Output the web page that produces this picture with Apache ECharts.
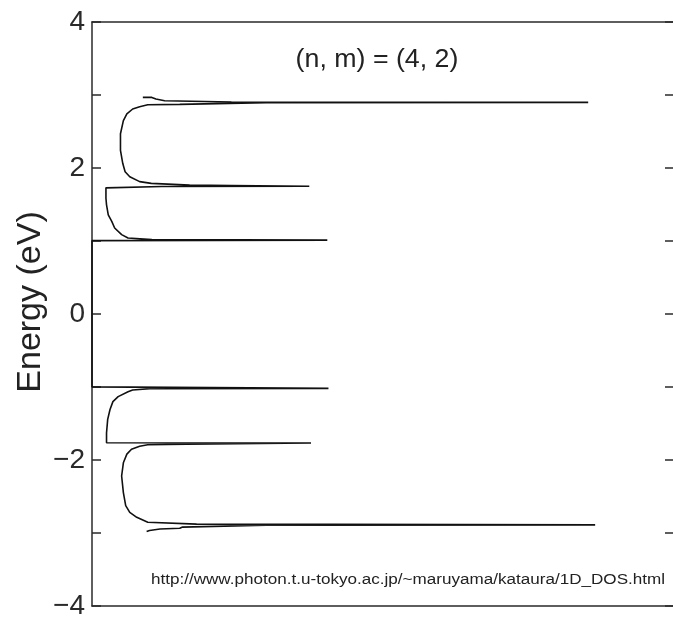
<!DOCTYPE html>
<html>
<head>
<meta charset="utf-8">
<script src="https://cdn.jsdelivr.net/npm/echarts@6/dist/echarts.min.js"></script>
<style>
html,body{margin:0;padding:0;background:#fff;}
#chart{width:673px;height:620px;}
</style>
</head>
<body>
<div id="chart"></div>
<script>
// Energy (eV) along the trace, top to bottom
const energy = [2.967, 2.967, 2.944, 2.921, 2.905, 2.899, 2.896, 2.872, 2.867, 2.840, 2.808, 2.740, 2.649, 2.469, 2.242, 2.061, 1.948, 1.880, 1.813, 1.789, 1.766, 1.760, 1.751, 1.747, 1.728, 1.586, 1.495, 1.359, 1.269, 1.178, 1.087, 1.042, 1.019, 1.012, 1.005, -0.998, -1.019, -1.023, -1.041, -1.064, -1.132, -1.200, -1.308, -1.444, -1.630, -1.764, -1.768, -1.784, -1.791, -1.811, -1.852, -1.920, -2.038, -2.219, -2.446, -2.626, -2.717, -2.785, -2.853, -2.878, -2.889, -2.893, -2.920, -2.935, -2.946, -2.966, -2.980];
// Density of states (arbitrary units) at each energy
const dos = [0.875, 1.03, 1.10, 1.25, 2.40, 8.54, 3.00, 1.51, 0.96, 0.82, 0.70, 0.60, 0.54, 0.49, 0.49, 0.53, 0.57, 0.65, 0.82, 1.02, 1.68, 2.40, 3.74, 1.20, 0.24, 0.24, 0.25, 0.28, 0.34, 0.39, 0.51, 0.62, 1.03, 4.05, 0, 0, 4.07, 0.99, 0.70, 0.62, 0.45, 0.36, 0.31, 0.27, 0.25, 0.25, 3.77, 1.63, 0.96, 0.82, 0.68, 0.60, 0.54, 0.51, 0.54, 0.58, 0.65, 0.77, 0.96, 1.80, 8.66, 3.00, 1.55, 1.51, 1.17, 0.99, 0.94];
// Tick labels of the energy axis
const yTickValues = [-4, -2, 0, 2, 4];
const yTickLabels = ['\u22124', '\u22122', '0', '2', '4'];
const titleText = '(n, m) = (4, 2)';
const urlText = 'http://www.photon.t.u-tokyo.ac.jp/~maruyama/kataura/1D_DOS.html';
const yAxisName = 'Energy (eV)';

const points = energy.map((e, i) => [dos[i], e]);
const FONT = 'Liberation Sans, Arial, sans-serif';
const AX = '#2a2a2a';

const chart = echarts.init(document.getElementById('chart'), null, {renderer: 'canvas'});
chart.setOption({
  animation: false,
  backgroundColor: '#ffffff',
  grid: {left: 92, right: 0, top: 22, bottom: 10, containLabel: false},
  xAxis: [
    {type: 'value', min: 0, max: 10, position: 'bottom',
     axisLine: {show: true, onZero: false, lineStyle: {color: AX, width: 1.5}},
     axisTick: {show: false}, axisLabel: {show: false}, splitLine: {show: false}},
    {type: 'value', min: 0, max: 10, position: 'top',
     axisLine: {show: true, onZero: false, lineStyle: {color: AX, width: 1.5}},
     axisTick: {show: false}, axisLabel: {show: false}, splitLine: {show: false}}
  ],
  yAxis: [
    {type: 'value', min: -4, max: 4, interval: 2, position: 'left',
     axisLine: {show: true, onZero: false, lineStyle: {color: AX, width: 1.5}},
     axisTick: {show: true, inside: true, length: 9, lineStyle: {color: AX, width: 1.5}},
     minorTick: {show: true, splitNumber: 2, length: 9, lineStyle: {color: AX, width: 1.5}},
     axisLabel: {show: true, margin: 7, fontSize: 28, fontFamily: FONT, color: '#2a2a2a',
       formatter: v => { const k = yTickValues.indexOf(Math.round(v)); return k >= 0 ? yTickLabels[k] : ''; }},
     splitLine: {show: false}},
    {type: 'value', min: -4, max: 4, interval: 1, position: 'right',
     axisLine: {show: false, onZero: false},
     axisTick: {show: true, inside: true, length: 8, lineStyle: {color: AX, width: 1.5}},
     axisLabel: {show: false}, splitLine: {show: false}}
  ],
  series: [{
    type: 'line', xAxisIndex: 0, yAxisIndex: 0,
    data: points, showSymbol: false, symbol: 'none',
    lineStyle: {color: '#111', width: 1.6}, z: 3
  }],
  graphic: [
    {type: 'text', x: 377, y: 60, scaleX: 1.07, z: 10,
     style: {text: titleText, x: 0, y: 0, align: 'center', verticalAlign: 'middle',
             fontSize: 25, fontFamily: FONT, fill: '#222'}},
    {type: 'text', x: 408, y: 580, scaleX: 1.22, z: 10,
     style: {text: urlText, x: 0, y: 0, align: 'center', verticalAlign: 'middle',
             fontSize: 14, fontFamily: FONT, fill: '#222'}},
    {type: 'text', x: 31, y: 302, rotation: Math.PI / 2, z: 10,
     style: {text: yAxisName, x: 0, y: 0, align: 'center', verticalAlign: 'middle',
             fontSize: 34, fontFamily: FONT, fill: '#222'}}
  ]
});
</script>
</body>
</html>
